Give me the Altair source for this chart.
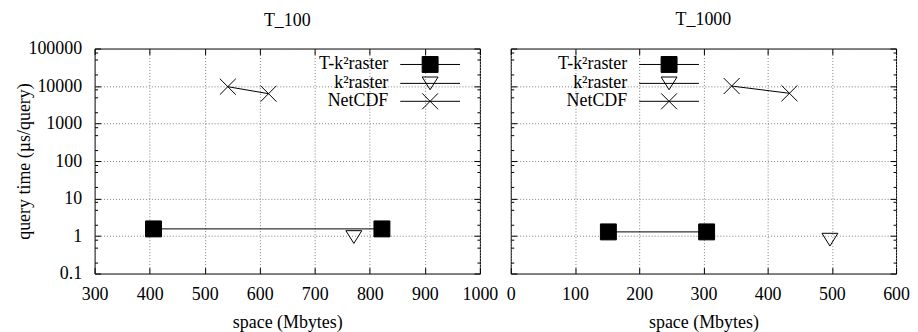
import altair as alt
import pandas as pd

# ---------------- data ----------------
SERIES = ["T-k²raster", "k²raster", "NetCDF"]

t100_series = ["T-k²raster", "T-k²raster", "k²raster", "NetCDF", "NetCDF"]
t100_space = [407, 822, 771, 542, 616]
t100_time = [1.55, 1.55, 0.94, 9600, 6250]

t1000_series = ["T-k²raster", "T-k²raster", "k²raster", "NetCDF", "NetCDF"]
t1000_space = [152, 305, 497, 344, 434]
t1000_time = [1.29, 1.29, 0.80, 10000, 6400]

x_ticks_100 = [300, 400, 500, 600, 700, 800, 900, 1000]
x_ticks_1000 = [0, 100, 200, 300, 400, 500, 600]
y_major = [0.1, 1, 10, 100, 1000, 10000, 100000]
y_minor = [0.2, 0.5, 0.8, 2, 5, 8, 20, 50, 80, 200, 500, 800,
           2000, 5000, 8000, 20000, 50000, 80000]
y_ticks = sorted(y_major + y_minor)

# ---------------- styling ----------------
FONT = "Liberation Serif"
FS = 18
DATA_SHAPES = ["M-1,-1H1V1H-1Z", "M-1,-0.8H1L0,0.8Z", "M-1,-1L1,1M-1,1L1,-1"]
LEGEND_SHAPES = ["M-3.75,0H3.75M-1,-1H1V1H-1Z",
                 "M-3.75,0H3.75M-1,-0.8H1L0,0.8Z",
                 "M-3.75,0H3.75M-1,-1L1,1M-1,1L1,-1"]
FILLS = ["black", "transparent", "transparent"]
STROKES = ["black", "black", "black"]

MAJOR = "abs(log(datum.value)/LN10 - round(log(datum.value)/LN10)) < 0.001"
TICK = 6
GRID = dict(gridColor="#808080", gridDash=[1, 2], gridWidth=1)


def y_axis(orient, labels, title):
    kw = dict(orient=orient, values=y_ticks, offset=-TICK, tickSize=TICK, domain=False,
              tickColor="black", tickWidth=1,
              tickDash={"condition": {"test": f"!({MAJOR})", "value": [0, 3, 3]}, "value": [6, 0]},
              labelOverlap=False)
    if orient == "left":
        kw.update(grid=True,
                  gridOpacity={"condition": {"test": f"!({MAJOR})", "value": 0}, "value": 1},
                  **GRID)
    else:
        kw.update(grid=False)
    if labels:
        kw.update(labels=True, labelPadding=13,
                  labelExpr=f"({MAJOR}) ? (datum.value < 1 ? '0.1' : format(datum.value, 'd')) : ''")
    else:
        kw.update(labels=False)
    if title:
        kw.update(title=title, titleX=-76, titleBaseline="middle")
    else:
        kw.update(title=None)
    return alt.Axis(**kw)


def x_axis(orient, ticks):
    kw = dict(orient=orient, values=ticks, offset=-TICK, tickSize=TICK, domain=False,
              tickColor="black", tickWidth=1, labelOverlap=False, labelFlush=False)
    if orient == "bottom":
        kw.update(grid=True, labels=True, format="d", labelPadding=12,
                  title="space (Mbytes)", titlePadding=10, **GRID)
    else:
        kw.update(grid=False, labels=False, title=None)
    return alt.Axis(**kw)


def panel(series, space, time, title, xdom, xticks, ylabels, legend_x, title_dy):
    df = pd.DataFrame({"series": series, "space": space, "time": time})
    base = alt.Chart(df)
    xs = alt.Scale(domain=xdom, nice=False, zero=False)
    ys = alt.Scale(type="log", domain=[0.1, 100000], nice=False)

    lines = base.mark_line(color="black", strokeWidth=1).encode(
        x=alt.X("space:Q", scale=xs, axis=x_axis("bottom", xticks)),
        y=alt.Y("time:Q", scale=ys,
                axis=y_axis("left", ylabels, "query time (µs/query)" if ylabels else None)),
        detail="series:N",
    )
    points = base.mark_point(filled=True, stroke="black", strokeWidth=1, opacity=1, size=256).encode(
        x=alt.X("space:Q", scale=xs, axis=x_axis("top", xticks)),
        y=alt.Y("time:Q", scale=ys, axis=y_axis("right", False, None)),
        shape=alt.Shape("series:N", scale=alt.Scale(domain=SERIES, range=DATA_SHAPES), legend=None),
        fill=alt.Fill("series:N", scale=alt.Scale(domain=SERIES, range=FILLS), legend=None),
    )
    leg_kw = dict(title=None, orient="none", legendX=legend_x, legendY=7, padding=0,
                  rowPadding={"expr": "-1"}, labelFont=FONT, labelFontSize=FS, labelColor="black",
                  labelAlign="right", labelOffset={"expr": "-51"}, labelLimit=400,
                  symbolStrokeColor="black", symbolStrokeWidth=1, symbolOpacity=1,
                  symbolSize=256)
    legend = base.transform_filter("false").mark_point(
        filled=True, strokeWidth=1, opacity=1, size=256).encode(
        x=alt.X("space:Q", scale=xs, axis=None),
        y=alt.Y("time:Q", scale=ys, axis=None),
        shape=alt.Shape("series:N", scale=alt.Scale(domain=SERIES, range=LEGEND_SHAPES),
                        legend=alt.Legend(**leg_kw)),
        fill=alt.Fill("series:N", scale=alt.Scale(domain=SERIES, range=FILLS),
                      legend=alt.Legend(**leg_kw)),
        stroke=alt.Stroke("series:N", scale=alt.Scale(domain=SERIES, range=STROKES),
                          legend=alt.Legend(**leg_kw)),
    )
    ttl = alt.TitleParams(title, frame="group", offset=0, dy=title_dy, baseline="alphabetic",
                          anchor="middle", font=FONT, fontSize=FS, fontWeight="normal",
                          color="black")
    return alt.layer(lines, points, legend, title=ttl).resolve_scale(
        shape="independent", fill="independent", stroke="independent"
    ).resolve_axis(x="independent", y="independent").properties(width=387, height=226)


p1 = panel(t100_series, t100_space, t100_time, "T_100", [300, 1000], x_ticks_100, True, 328, 4)
p2 = panel(t1000_series, t1000_space, t1000_time, "T_1000", [0, 600], x_ticks_1000, False, 150, -5)

chart = alt.hconcat(p1, p2, spacing=7).resolve_scale(
    shape="independent", fill="independent", stroke="independent"
).resolve_legend(shape="independent", fill="independent", stroke="independent").properties(
    padding={"left": 7, "top": 2, "right": 0, "bottom": 0}
).configure(font=FONT).configure_view(stroke="black", strokeWidth=1).configure_axis(
    labelFont=FONT, labelFontSize=FS, labelColor="black",
    titleFont=FONT, titleFontSize=FS, titleFontWeight="normal", titleColor="black",
)

chart.save("out.html", embed_options={"renderer": "svg", "actions": False})
